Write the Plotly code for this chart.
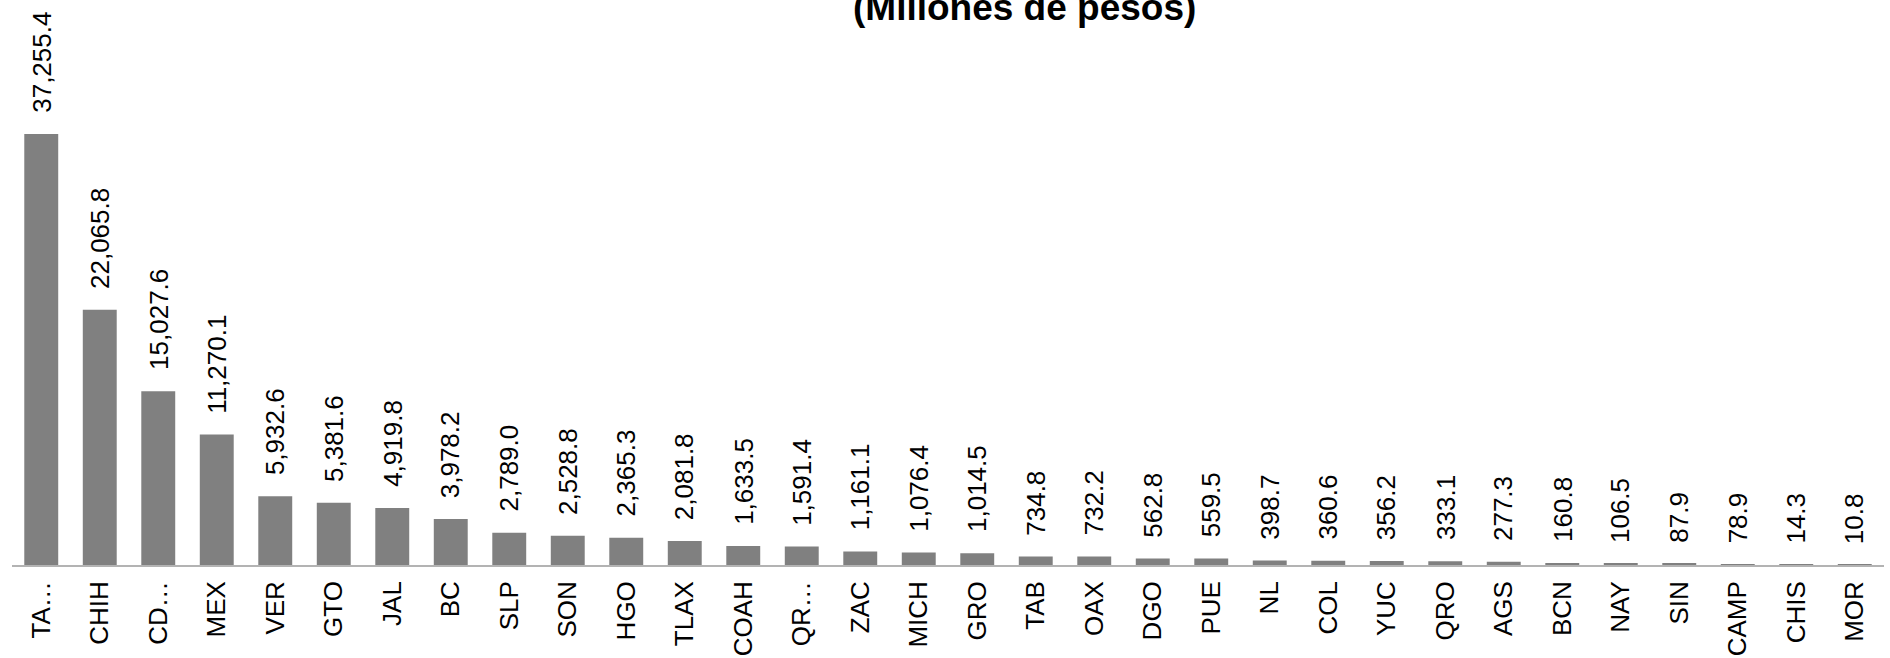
import plotly.graph_objects as go

# datos
estados = ["TA…", "CHIH", "CD…", "MEX", "VER", "GTO", "JAL", "BC", "SLP", "SON",
           "HGO", "TLAX", "COAH", "QR…", "ZAC", "MICH", "GRO", "TAB", "OAX", "DGO",
           "PUE", "NL", "COL", "YUC", "QRO", "AGS", "BCN", "NAY", "SIN", "CAMP",
           "CHIS", "MOR"]
montos = [37255.4, 22065.8, 15027.6, 11270.1, 5932.6, 5381.6, 4919.8, 3978.2, 2789.0, 2528.8,
          2365.3, 2081.8, 1633.5, 1591.4, 1161.1, 1076.4, 1014.5, 734.8, 732.2, 562.8,
          559.5, 398.7, 360.6, 356.2, 333.1, 277.3, 160.8, 106.5, 87.9, 78.9,
          14.3, 10.8]
titulo = "(Millones de pesos)"

FONT = "Liberation Sans, Arial, sans-serif"

fig = go.Figure()
fig.add_trace(go.Bar(x=estados, y=montos, marker=dict(color="#808080", line=dict(width=0))))

# etiquetas de valor, giradas sobre cada barra
for e, v in zip(estados, montos):
    fig.add_annotation(x=e, y=v, text=f"{v:,.1f}", textangle=-90, showarrow=False,
                       yanchor="bottom", yshift=19,
                       font=dict(family=FONT, size=26, color="black"))

fig.add_annotation(text="<b>" + titulo + "</b>", xref="paper", yref="paper",
                   x=0.541, y=1, xanchor="center", yanchor="bottom", yshift=-30,
                   showarrow=False, font=dict(family=FONT, size=37, color="black"))

fig.update_layout(
    width=1890, height=658,
    margin=dict(l=12, r=6, t=0, b=93),
    plot_bgcolor="white", paper_bgcolor="white",
    bargap=0.42, showlegend=False,
    font=dict(family=FONT, color="black"),
)
fig.update_xaxes(tickangle=-90, tickfont=dict(family=FONT, size=26, color="black"),
                 showline=True, linecolor="#b3b3b3", linewidth=1.5, ticks="",
                 ticklabelstandoff=4, automargin=False)
fig.update_yaxes(range=[0, 48840], visible=False, showgrid=False, automargin=False)

# sin margen del body para que la figura quede en la esquina
fig.write_html("out.html", config={"displayModeBar": False},
               post_script="document.body.style.margin='0';")
